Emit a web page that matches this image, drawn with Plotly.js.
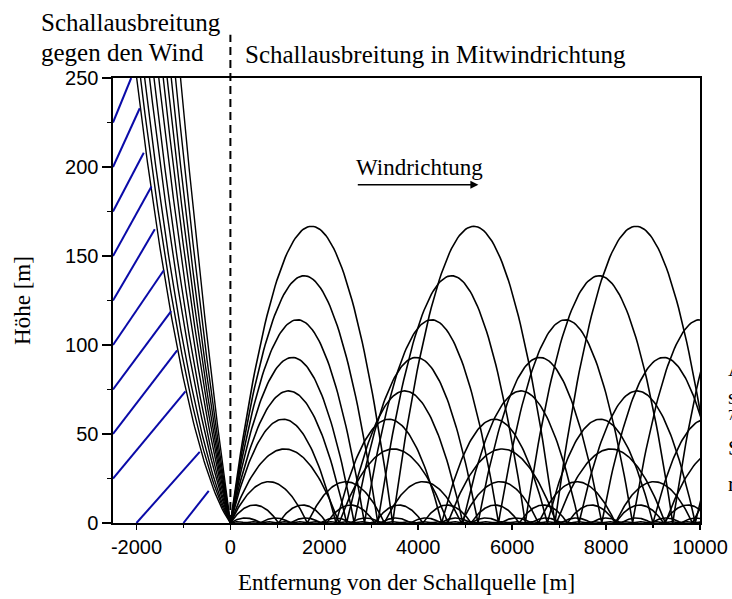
<!DOCTYPE html>
<html>
<head>
<meta charset="utf-8">
<script src="https://cdn.plot.ly/plotly-3.0.1.min.js"></script>
<style>
  html, body { margin: 0; padding: 0; background: #fff; }
  #chart { width: 732px; height: 599px; }
</style>
</head>
<body>
<div id="chart"></div>
<script>
// Downwind rays, one entry per launch angle: apex height [m] and skip distance
// between two ground reflections [m]
const downApex = [166.7, 138.9, 114.2, 93.0, 74.2, 58.3, 41.6, 23.2, 10.1, 2.8, 0.7];
const downSkip = [3455, 3140, 2855, 2636, 2475, 2250, 2315, 1640, 1025, 640, 330];

// Upwind rays: horizontal distance [m] at which each ray reaches 250 m
const upTopX = [-2000, -1915, -1830, -1723, -1631, -1525, -1432, -1347, -1262, -1170, -1064];
const upTopY = 250;
// common upward curvature of the upwind rays [1/m]
const upCurv = 4.378e-5;

// Hatching of the shadow zone (start and end of each stroke) [m]
const hatchX0 = [-2500, -2500, -2500, -2500, -2500, -2500, -2500, -2500, -2500, -2000, -1000];
const hatchY0 = [225, 200, 175, 150, 125, 100, 75, 50, 25, 0, 0];
const hatchX1 = [-2113, -1930, -1845, -1681, -1610, -1418, -1262, -1134, -957, -653, -461];
const hatchY1 = [250, 233, 208, 189, 165, 142, 119, 97, 74, 40, 18];

// Axes
const xRange = [-2500, 10000];
const yRange = [0, 250];
const xTickVals = [-2000, 0, 2000, 4000, 6000, 8000, 10000];
const xTickText = ['-2000', '0', '2000', '4000', '6000', '8000', '10000'];
const yTickVals = [0, 50, 100, 150, 200, 250];
const yTickText = ['0', '50', '100', '150', '200', '250'];

const SERIF = 'Liberation Serif, Times New Roman, serif';
const SANS = 'Liberation Sans, Arial, sans-serif';

const traces = [];

// Downwind: successive arcs bouncing along the ground
downApex.forEach((h, i) => {
  const skip = downSkip[i];
  const xs = [], ys = [];
  const n = 80;
  for (let b = 0; b * skip < xRange[1] + 200; b++) {
    for (let j = (b === 0 ? 0 : 1); j <= n; j++) {
      const s = -1 + 2 * j / n;
      xs.push(b * skip + skip / 2 * (1 + s));
      ys.push(h * (1 - s * s));
    }
  }
  traces.push({
    type: 'scatter', mode: 'lines', x: xs, y: ys,
    line: { color: '#000', width: 1.6 }, hoverinfo: 'skip', showlegend: false
  });
});

// Upwind: rays bent upwards, y = t*|x| + k*x^2
upTopX.forEach((xt) => {
  const X = Math.abs(xt);
  const t = (upTopY - upCurv * X * X) / X;
  const xs = [], ys = [];
  for (let j = 0; j <= 100; j++) {
    const y = 270 * j / 100;
    const ax = (-t + Math.sqrt(t * t + 4 * upCurv * y)) / (2 * upCurv);
    xs.push(-ax);
    ys.push(y);
  }
  traces.push({
    type: 'scatter', mode: 'lines', x: xs, y: ys,
    line: { color: '#000', width: 1.4 }, hoverinfo: 'skip', showlegend: false
  });
});

// Shadow-zone hatching
const hx = [], hy = [];
hatchX0.forEach((x0, i) => {
  hx.push(x0, hatchX1[i], null);
  hy.push(hatchY0[i], hatchY1[i], null);
});
traces.push({
  type: 'scatter', mode: 'lines', x: hx, y: hy,
  line: { color: '#0a0aa8', width: 2 }, hoverinfo: 'skip', showlegend: false
});

const axisCommon = {
  showline: true, linecolor: '#000', linewidth: 1.6, mirror: true,
  showgrid: false, zeroline: false,
  ticks: 'outside', tickcolor: '#000', tickwidth: 1.5,
  tickfont: { family: SANS, size: 20, color: '#000' }
};

const layout = {
  width: 732, height: 599,
  margin: { l: 113, r: 32, t: 78, b: 76 },
  paper_bgcolor: '#fff', plot_bgcolor: '#fff',
  showlegend: false,
  xaxis: Object.assign({}, axisCommon, {
    range: xRange, tickmode: 'array', tickvals: xTickVals, ticktext: xTickText,
    ticklen: 5,
    minor: { ticks: 'outside', dtick: 1000, tick0: 0, ticklen: 3, tickcolor: '#000', tickwidth: 1.2 },
    title: { text: 'Entfernung von der Schallquelle [m]', font: { family: SERIF, size: 23, color: '#000' }, standoff: 17 }
  }),
  yaxis: Object.assign({}, axisCommon, {
    range: yRange, tickmode: 'array', tickvals: yTickVals, ticktext: yTickText,
    ticklen: 9,
    minor: { ticks: 'outside', dtick: 25, tick0: 0, ticklen: 4, tickcolor: '#000', tickwidth: 1.2 },
    title: { text: 'Höhe [m]', font: { family: SERIF, size: 23, color: '#000' }, standoff: 28 }
  }),
  shapes: [
    // source position: boundary between upwind and downwind propagation
    { type: 'line', xref: 'x', yref: 'paper', x0: 0, x1: 0, y0: 0, y1: 1.097,
      line: { color: '#000', width: 2, dash: '8px,5px' } }
  ],
  annotations: [
    { xref: 'paper', yref: 'paper', x: -0.126, y: 1.125, xanchor: 'left', yanchor: 'middle',
      text: 'Schallausbreitung', showarrow: false, font: { family: SERIF, size: 25, color: '#000' } },
    { xref: 'paper', yref: 'paper', x: -0.126, y: 1.058, xanchor: 'left', yanchor: 'middle',
      text: 'gegen den Wind', showarrow: false, font: { family: SERIF, size: 25, color: '#000' } },
    { xref: 'paper', yref: 'paper', x: 0.2215, y: 1.053, xanchor: 'left', yanchor: 'middle',
      text: 'Schallausbreitung in Mitwindrichtung', showarrow: false, font: { family: SERIF, size: 25, color: '#000' } },
    { xref: 'x', yref: 'y', x: 2640, y: 200, xanchor: 'left', yanchor: 'middle',
      text: 'Windrichtung', showarrow: false, font: { family: SERIF, size: 23, color: '#000' } },
    { xref: 'x', yref: 'y', axref: 'x', ayref: 'y', x: 5280, y: 190, ax: 2681, ay: 190,
      text: '', showarrow: true, arrowhead: 2, arrowsize: 1, arrowwidth: 1.6, arrowcolor: '#000', standoff: 0 },
    // fragments of neighbouring text at the right border
    { xref: 'paper', yref: 'paper', x: 1.044, y: 0.348, xanchor: 'left', yanchor: 'middle',
      text: 'A', showarrow: false, font: { family: SERIF, size: 22, color: '#000' } },
    { xref: 'paper', yref: 'paper', x: 1.044, y: 0.285, xanchor: 'left', yanchor: 'middle',
      text: 's', showarrow: false, font: { family: SERIF, size: 22, color: '#000' } },
    { xref: 'paper', yref: 'paper', x: 1.044, y: 0.241, xanchor: 'left', yanchor: 'middle',
      text: '7', showarrow: false, font: { family: SERIF, size: 14, color: '#000' } },
    { xref: 'paper', yref: 'paper', x: 1.044, y: 0.170, xanchor: 'left', yanchor: 'middle',
      text: 'S', showarrow: false, font: { family: SERIF, size: 22, color: '#000' } },
    { xref: 'paper', yref: 'paper', x: 1.044, y: 0.088, xanchor: 'left', yanchor: 'middle',
      text: 'r', showarrow: false, font: { family: SERIF, size: 22, color: '#000' } }
  ]
};

Plotly.newPlot('chart', traces, layout, { displayModeBar: false, staticPlot: true });
</script>
</body>
</html>
